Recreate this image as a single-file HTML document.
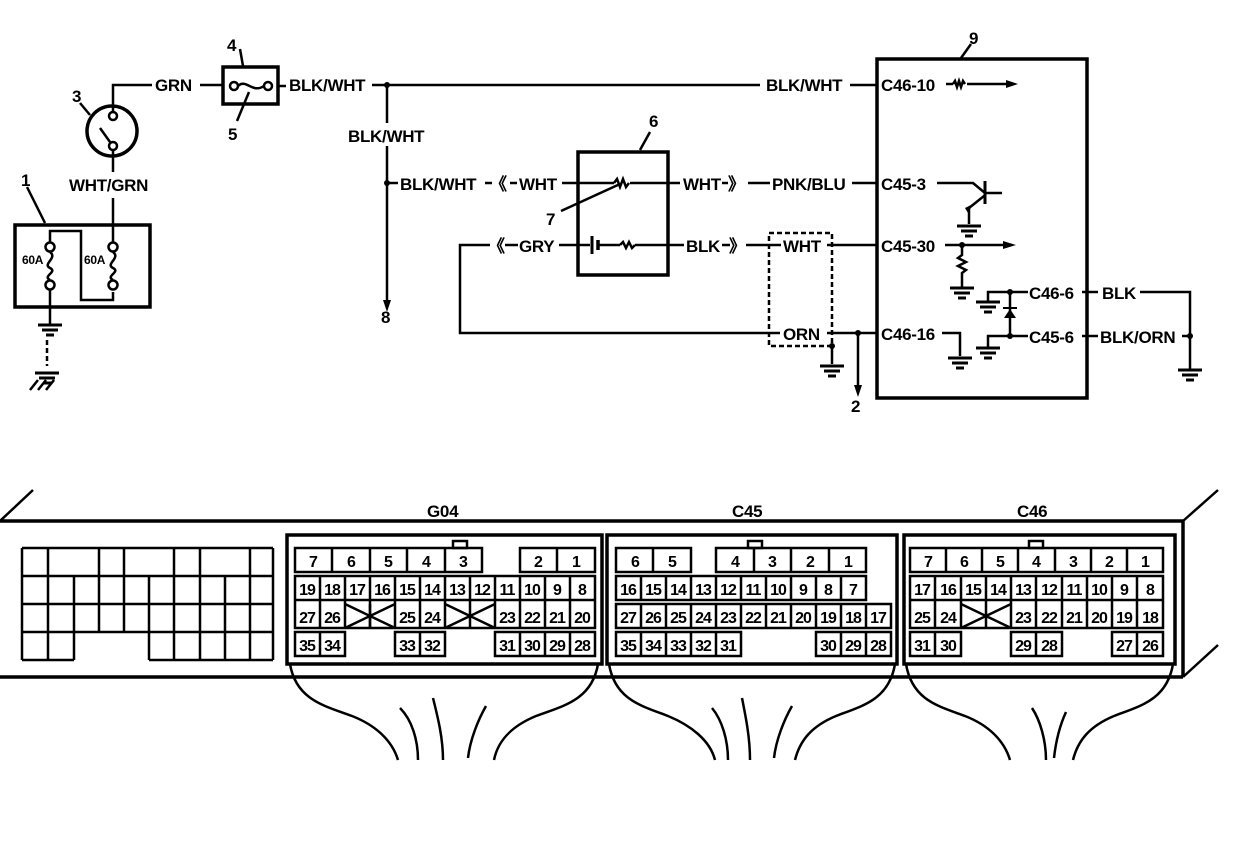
<!DOCTYPE html>
<html><head><meta charset="utf-8"><style>
html,body{margin:0;padding:0;background:#fff}
svg{display:block}
text{font-family:"Liberation Sans",sans-serif;font-weight:bold;font-size:17px;fill:#000;letter-spacing:-0.3px}
.c text{font-size:16px;text-anchor:middle;letter-spacing:-1px}
</style></head><body>
<svg width="1248" height="858" viewBox="0 0 1248 858" xmlns="http://www.w3.org/2000/svg">
<defs>
<g id="gnd" stroke="#000" stroke-width="3"><line x1="-12" y1="0" x2="12" y2="0"/><line x1="-8" y1="5" x2="8" y2="5"/><line x1="-4" y1="10" x2="4" y2="10"/></g>
</defs>
<g stroke="#000" stroke-width="2.5" fill="none">
<rect x="15" y="225" width="135" height="82" stroke-width="3.5"/>
<line x1="27" y1="187" x2="45" y2="223"/>
<polyline points="50,243 50,231 81,231 81,300 113,300 113,292"/>
<circle cx="50" cy="247" r="4.5"/><circle cx="50" cy="285" r="4.5"/>
<path d="M50 252 C58 258 42 264 50 268 C58 272 42 276 50 280"/>
<circle cx="113" cy="247" r="4.5"/><circle cx="113" cy="285" r="4.5"/>
<path d="M113 252 C121 258 105 264 113 268 C121 272 105 276 113 280"/>
<line x1="50" y1="290" x2="50" y2="325"/>
<line x1="113" y1="242" x2="113" y2="198"/>
<line x1="47" y1="340" x2="47" y2="366" stroke-dasharray="5,3"/>
<line x1="38" y1="380" x2="30" y2="390"/><line x1="46" y1="380" x2="38" y2="390"/><line x1="54" y1="380" x2="46" y2="390"/>
<circle cx="112" cy="131" r="25" stroke-width="3.5"/>
<circle cx="113" cy="116" r="4"/><circle cx="113" cy="146" r="4"/>
<line x1="100" y1="128" x2="110" y2="142"/>
<line x1="90" y1="115" x2="80" y2="103"/>
<polyline points="113,112 113,85 152,85"/>
<line x1="113" y1="150" x2="113" y2="172"/>
<line x1="200" y1="85" x2="222" y2="85"/>
<rect x="223" y="67" width="55" height="37" stroke-width="3.5"/>
<circle cx="234" cy="86" r="4"/><circle cx="268" cy="86" r="4"/>
<path d="M238 86 C246 78 252 94 264 86"/>
<line x1="240" y1="49" x2="243" y2="66"/>
<line x1="237" y1="121" x2="249" y2="92"/>
<line x1="278" y1="86" x2="286" y2="86"/>
<line x1="372" y1="85" x2="760" y2="85"/>
<line x1="850" y1="85" x2="877" y2="85"/>
<line x1="387" y1="85" x2="387" y2="123"/>
<line x1="387" y1="146" x2="387" y2="300"/>
<line x1="387" y1="183" x2="398" y2="183"/>
<rect x="578" y="152" width="90" height="123" stroke-width="3.5"/>
<line x1="640" y1="150" x2="650" y2="132"/>
<line x1="562" y1="183" x2="614" y2="183"/>
<path d="M614 183 l3 -4 l3 8 l3 -8 l3 8 l3 -4"/>
<line x1="630" y1="183" x2="680" y2="183"/>
<line x1="561" y1="211" x2="620" y2="184"/>
<line x1="722" y1="183" x2="728" y2="183"/>
<line x1="748" y1="183" x2="770" y2="183"/>
<line x1="852" y1="183" x2="877" y2="183"/>
<line x1="510" y1="183" x2="517" y2="183"/>
<line x1="485" y1="183" x2="492" y2="183"/>
<line x1="559" y1="245" x2="590" y2="245"/>
<line x1="592" y1="236" x2="592" y2="254" stroke-width="3"/>
<line x1="598" y1="240" x2="598" y2="250" stroke-width="3.5"/>
<line x1="598" y1="245" x2="620" y2="245"/>
<path d="M620 245 l3 -3 l3 6 l3 -6 l3 6 l3 -3"/>
<line x1="635" y1="245" x2="684" y2="245"/>
<line x1="722" y1="245" x2="730" y2="245"/>
<line x1="746" y1="245" x2="781" y2="245"/>
<line x1="827" y1="245" x2="877" y2="245"/>
<line x1="505" y1="245" x2="518" y2="245"/>
<polyline points="490,245 460,245 460,333 780,333"/>
<line x1="827" y1="333" x2="877" y2="333"/>
<rect x="769" y="233" width="63" height="113" stroke-dasharray="5,3"/>
<line x1="832" y1="346" x2="832" y2="364"/>
<line x1="858" y1="333" x2="858" y2="385"/>
<rect x="877" y="59" width="210" height="339" stroke-width="3.5"/>
<line x1="961" y1="58" x2="971" y2="44"/>
<line x1="946" y1="84" x2="953" y2="84"/>
<path d="M953 84 l2 -3 l2 6 l2 -6 l2 6 l2 -6 l2 3"/>
<line x1="967" y1="84" x2="1008" y2="84"/>
<polyline points="937,183 973,183 985,193"/>
<line x1="985" y1="181" x2="985" y2="204" stroke-width="3"/>
<line x1="985" y1="193" x2="1002" y2="193"/>
<polyline points="984,196 969,208 969,224"/>
<line x1="945" y1="245" x2="1005" y2="245"/>
<path d="M962 245 l0 10 l-4 3 l8 4 l-8 4 l8 4 l-4 3 l0 10"/>
<line x1="962" y1="283" x2="962" y2="288"/>
<polyline points="988,302 988,292 1028,292"/>
<polyline points="988,348 988,336 1028,336"/>
<line x1="1010" y1="292" x2="1010" y2="336"/>
<polyline points="942,333 960,333 960,356"/>
<line x1="1082" y1="292" x2="1098" y2="292"/>
<line x1="1082" y1="336" x2="1098" y2="336"/>
<polyline points="1140,292 1190,292 1190,370"/>
<line x1="1182" y1="336" x2="1190" y2="336"/>
</g>
<g fill="#000">
<circle cx="387" cy="85" r="3"/><circle cx="387" cy="183" r="3"/>
<circle cx="858" cy="333" r="3"/><circle cx="832" cy="346" r="3"/>
<circle cx="962" cy="245" r="3"/><circle cx="1010" cy="292" r="3"/><circle cx="1010" cy="336" r="3"/><circle cx="1190" cy="336" r="3"/>
<polygon points="383,300 391,300 387,312"/>
<polygon points="854,385 862,385 858,397"/>
<polygon points="1006,80 1018,84 1006,88"/>
<polygon points="1003,241 1016,245 1003,249"/>
<polygon points="965,208 973,204 968,213"/>
<polygon points="1004,318 1016,318 1010,309"/>
<rect x="1003" y="307" width="14" height="2"/>
</g>
<use href="#gnd" x="50" y="325"/><use href="#gnd" x="47" y="373"/>
<use href="#gnd" x="832" y="366"/><use href="#gnd" x="969" y="226"/><use href="#gnd" x="962" y="288"/>
<use href="#gnd" x="988" y="302"/><use href="#gnd" x="988" y="348"/><use href="#gnd" x="960" y="358"/><use href="#gnd" x="1190" y="370"/>
<g>
<text x="21" y="186">1</text>
<text x="72" y="102">3</text>
<text x="227" y="51">4</text>
<text x="228" y="140">5</text>
<text x="649" y="127">6</text>
<text x="546" y="225">7</text>
<text x="381" y="323">8</text>
<text x="969" y="44">9</text>
<text x="851" y="412">2</text>
<text x="22" y="264" style="font-size:12px">60A</text>
<text x="84" y="264" style="font-size:12px">60A</text>
<text x="69" y="191">WHT/GRN</text>
<text x="155" y="91">GRN</text>
<text x="289" y="91">BLK/WHT</text>
<text x="348" y="142">BLK/WHT</text>
<text x="400" y="190">BLK/WHT</text>
<text x="490" y="190">《</text>
<text x="519" y="190">WHT</text>
<text x="683" y="190">WHT</text>
<text x="728" y="190">》</text>
<text x="772" y="190">PNK/BLU</text>
<text x="766" y="91">BLK/WHT</text>
<text x="488" y="252">《</text>
<text x="519" y="252">GRY</text>
<text x="686" y="252">BLK</text>
<text x="729" y="252">》</text>
<text x="783" y="252">WHT</text>
<text x="783" y="340">ORN</text>
<text x="881" y="91">C46-10</text>
<text x="881" y="190">C45-3</text>
<text x="881" y="252">C45-30</text>
<text x="881" y="340">C46-16</text>
<text x="1029" y="299">C46-6</text>
<text x="1029" y="343">C45-6</text>
<text x="1102" y="299">BLK</text>
<text x="1100" y="343">BLK/ORN</text>
<text x="427" y="517">G04</text>
<text x="732" y="517">C45</text>
<text x="1017" y="517">C46</text>
</g>
<g stroke="#000" stroke-width="3.5" fill="none">
<line x1="0" y1="521" x2="1183" y2="521"/>
<line x1="0" y1="677" x2="1183" y2="677"/>
<line x1="1183" y1="521" x2="1183" y2="677"/>
<line x1="0" y1="521" x2="33" y2="490" stroke-width="2.5"/>
<line x1="1183" y1="521" x2="1218" y2="490" stroke-width="2.5"/>
<line x1="1183" y1="677" x2="1218" y2="645" stroke-width="2.5"/>
<rect x="287" y="535" width="315" height="129" fill="#fff"/>
<rect x="607" y="535" width="290" height="129" fill="#fff"/>
<rect x="904" y="535" width="271" height="129" fill="#fff"/>
</g>
<g stroke="#000" stroke-width="2.5" fill="none">
<path d="M22 548H273M22 576H273M22 604H273M22 632H273M22 660H74M149 660H273M22 548V660M273 548V660M48 548V660M74 576V660M99 548V632M124 548V632M149 576V660M174 548V660M200 548V660M225 576V660M250 548V660"/>
<path d="M290 664 C296 700 325 706 352 716 C375 725 392 740 398 760"/>
<path d="M598 664 C592 700 563 706 536 716 C512 726 498 740 494 760"/>
<path d="M400 708 C412 720 418 740 418 760M433 698 C438 718 443 738 443 760M486 706 C478 720 470 740 468 758"/>
<path d="M609 664 C615 700 642 706 668 716 C690 725 710 740 715 760"/>
<path d="M895 664 C889 700 862 706 836 716 C812 726 800 740 795 760"/>
<path d="M712 708 C722 720 728 740 728 760M742 698 C746 718 750 738 750 760M792 706 C784 720 776 740 774 758"/>
<path d="M906 664 C912 700 938 706 965 716 C988 725 1004 740 1010 760"/>
<path d="M1173 664 C1167 700 1140 706 1114 716 C1090 726 1078 740 1073 760"/>
<path d="M1032 708 C1040 720 1046 740 1046 760M1066 712 C1060 725 1056 740 1054 758"/>
<rect x="453" y="541" width="14" height="7"/><rect x="748" y="541" width="14" height="7"/><rect x="1029" y="541" width="14" height="7"/>
</g>
<g stroke="#000" stroke-width="2.5" fill="none">
<path d="M295 548H482V572H295ZM332 548V572M370 548V572M407 548V572M445 548V572M520 548H595V572H520ZM557 548V572"/>
<path d="M295 576H595V628H295Z M295 600H595 M320 576V628M345 576V628M370 576V628M395 576V628M420 576V628M445 576V628M470 576V628M495 576V628M520 576V628M545 576V628M570 576V628"/>
<path d="M345 604L395 628M345 628L395 604M370 604V628M445 604L495 628M445 628L495 604"/>
<path d="M295 632H345V656H295ZM320 632V656M395 632H445V656H395ZM420 632V656M495 632H595V656H495ZM520 632V656M545 632V656M570 632V656"/>
<path d="M616 548H691V572H616ZM653 548V572M716 548H866V572H716ZM754 548V572M791 548V572M829 548V572"/>
<path d="M616 576H866V600H616ZM641 576V600M666 576V600M691 576V600M716 576V600M741 576V600M766 576V600M791 576V600M816 576V600M841 576V600"/>
<path d="M616 604H891V628H616ZM641 604V628M666 604V628M691 604V628M716 604V628M741 604V628M766 604V628M791 604V628M816 604V628M841 604V628M866 604V628"/>
<path d="M616 632H741V656H616ZM641 632V656M666 632V656M691 632V656M716 632V656M816 632H891V656H816ZM841 632V656M866 632V656"/>
<path d="M910 548H1163V572H910ZM946 548V572M982 548V572M1018 548V572M1055 548V572M1091 548V572M1127 548V572"/>
<path d="M910 576H1163V628H910ZM910 600H1163M935 576V628M961 576V628M986 576V628M1011 576V628M1036 576V628M1062 576V628M1087 576V628M1112 576V628M1137 576V628"/>
<path d="M961 604L1011 628M961 628L1011 604"/>
<path d="M910 632H961V656H910ZM935 632V656M1011 632H1062V656H1011ZM1036 632V656M1112 632H1163V656H1112ZM1137 632V656"/>
</g>
<g class="c">
<text x="313" y="567">7</text><text x="351" y="567">6</text><text x="388" y="567">5</text><text x="426" y="567">4</text><text x="463" y="567">3</text><text x="538" y="567">2</text><text x="576" y="567">1</text>
<text x="307" y="595">19</text><text x="332" y="595">18</text><text x="357" y="595">17</text><text x="382" y="595">16</text><text x="407" y="595">15</text><text x="432" y="595">14</text><text x="457" y="595">13</text><text x="482" y="595">12</text><text x="507" y="595">11</text><text x="532" y="595">10</text><text x="557" y="595">9</text><text x="582" y="595">8</text>
<text x="307" y="623">27</text><text x="332" y="623">26</text><text x="407" y="623">25</text><text x="432" y="623">24</text><text x="507" y="623">23</text><text x="532" y="623">22</text><text x="557" y="623">21</text><text x="582" y="623">20</text>
<text x="307" y="651">35</text><text x="332" y="651">34</text><text x="407" y="651">33</text><text x="432" y="651">32</text><text x="507" y="651">31</text><text x="532" y="651">30</text><text x="557" y="651">29</text><text x="582" y="651">28</text>
<text x="635" y="567">6</text><text x="672" y="567">5</text><text x="735" y="567">4</text><text x="772" y="567">3</text><text x="810" y="567">2</text><text x="848" y="567">1</text>
<text x="628" y="595">16</text><text x="653" y="595">15</text><text x="678" y="595">14</text><text x="703" y="595">13</text><text x="728" y="595">12</text><text x="753" y="595">11</text><text x="778" y="595">10</text><text x="803" y="595">9</text><text x="828" y="595">8</text><text x="853" y="595">7</text>
<text x="628" y="623">27</text><text x="653" y="623">26</text><text x="678" y="623">25</text><text x="703" y="623">24</text><text x="728" y="623">23</text><text x="753" y="623">22</text><text x="778" y="623">21</text><text x="803" y="623">20</text><text x="828" y="623">19</text><text x="853" y="623">18</text><text x="878" y="623">17</text>
<text x="628" y="651">35</text><text x="653" y="651">34</text><text x="678" y="651">33</text><text x="703" y="651">32</text><text x="728" y="651">31</text><text x="828" y="651">30</text><text x="853" y="651">29</text><text x="878" y="651">28</text>
<text x="928" y="567">7</text><text x="964" y="567">6</text><text x="1000" y="567">5</text><text x="1036" y="567">4</text><text x="1073" y="567">3</text><text x="1109" y="567">2</text><text x="1145" y="567">1</text>
<text x="922" y="595">17</text><text x="948" y="595">16</text><text x="973" y="595">15</text><text x="998" y="595">14</text><text x="1023" y="595">13</text><text x="1049" y="595">12</text><text x="1074" y="595">11</text><text x="1099" y="595">10</text><text x="1124" y="595">9</text><text x="1150" y="595">8</text>
<text x="922" y="623">25</text><text x="948" y="623">24</text><text x="1023" y="623">23</text><text x="1049" y="623">22</text><text x="1074" y="623">21</text><text x="1099" y="623">20</text><text x="1124" y="623">19</text><text x="1150" y="623">18</text>
<text x="922" y="651">31</text><text x="948" y="651">30</text><text x="1023" y="651">29</text><text x="1049" y="651">28</text><text x="1124" y="651">27</text><text x="1150" y="651">26</text>
</g>
</svg>
</body></html>
